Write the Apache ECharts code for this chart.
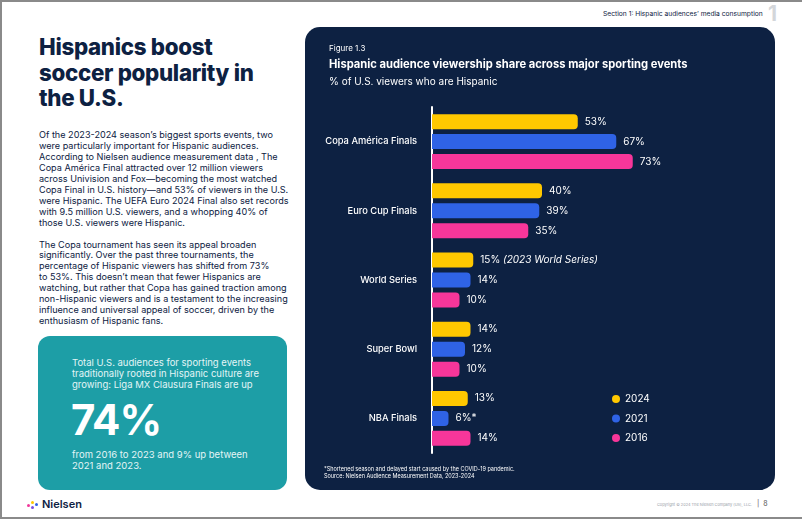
<!DOCTYPE html>
<html>
<head>
<meta charset="utf-8">
<script src="https://cdn.jsdelivr.net/npm/echarts@6/dist/echarts.min.js"></script>
<style>
  html, body { margin:0; padding:0; }
  body { width:802px; height:519px; position:relative; overflow:hidden; background:#fff; font-family:Inter, "Noto Sans", sans-serif; color:#0d2142; }
  .frame { position:absolute; left:0; top:0; width:802px; height:515px; border-top:2px solid #8a8a8a; border-left:2px solid #8a8a8a; border-bottom:2px solid #8a8a8a; box-sizing:content-box; }
  .abs { position:absolute; white-space:nowrap; }
  #h1 { left:39px; top:34px; font-size:22.3px; font-weight:800; line-height:25.5px; letter-spacing:-0.3px; }
  #body { left:39px; top:130px; font-size:9.1px; line-height:10.95px; }
  #box { left:38px; top:336px; width:249px; height:154px; border-radius:12px; background:#1d9ea6; }
  #boxtxt { left:72px; top:357px; font-size:9.5px; line-height:11px; color:#e3f5f6; }
  #big { left:71px; top:396px; font-size:42px; font-weight:700; color:#fff; letter-spacing:-1px; line-height:48px; }
  #boxtxt2 { left:72px; top:449px; font-size:9.5px; line-height:11px; color:#e3f5f6; }
  #sec { left:603px; top:10px; font-size:6.7px; color:#0d2142; }
  #secnum { left:768px; top:1px; font-size:21px; font-weight:700; color:#d3d6da; }
  #copy { left:657px; top:502px; font-size:3.9px; color:#9aa0a8; }
  #pg { left:757px; top:499px; font-size:7px; color:#555; }
  #logo { left:42px; top:497px; font-size:11px; font-weight:600; color:#0d2142; }
  .dot { position:absolute; border-radius:50%; }
  #chart { position:absolute; left:305px; top:27px; width:470px; height:463px; border-radius:15px; background:#0d2142; overflow:hidden; }
</style>
</head>
<body>
<div class="frame"></div>
<div class="abs" id="h1">Hispanics boost<br>soccer popularity in<br>the U.S.</div>
<div class="abs" id="body">Of the 2023-2024 season’s biggest sports events, two<br>were particularly important for Hispanic audiences.<br>According to Nielsen audience measurement data , The<br>Copa América Final attracted over 12 million viewers<br>across Univision and Fox—becoming the most watched<br>Copa Final in U.S. history—and 53% of viewers in the U.S.<br>were Hispanic. The UEFA Euro 2024 Final also set records<br>with 9.5 million U.S. viewers, and a whopping 40% of<br>those U.S. viewers were Hispanic.<br><br>The Copa tournament has seen its appeal broaden<br>significantly. Over the past three tournaments, the<br>percentage of Hispanic viewers has shifted from 73%<br>to 53%. This doesn’t mean that fewer Hispanics are<br>watching, but rather that Copa has gained traction among<br>non-Hispanic viewers and is a testament to the increasing<br>influence and universal appeal of soccer, driven by the<br>enthusiasm of Hispanic fans.</div>
<div class="abs" id="box"></div>
<div class="abs" id="boxtxt">Total U.S. audiences for sporting events<br>traditionally rooted in Hispanic culture are<br>growing: Liga MX Clausura Finals are up</div>
<div class="abs" id="big">74%</div>
<div class="abs" id="boxtxt2">from 2016 to 2023 and 9% up between<br>2021 and 2023.</div>
<div class="abs" id="sec">Section 1: Hispanic audiences’ media consumption</div>
<div class="abs" id="secnum">1</div>
<div class="abs" id="copy">Copyright © 2024 The Nielsen Company (US), LLC.</div>
<div class="abs" id="pg">|&nbsp;&nbsp;8</div>
<div class="dot" style="left:27px;top:504px;width:3px;height:3px;background:#f0379a"></div>
<div class="dot" style="left:31px;top:501px;width:3px;height:3px;background:#ffc800"></div>
<div class="dot" style="left:31px;top:506px;width:3px;height:3px;background:#7b4fe0"></div>
<div class="dot" style="left:35px;top:503px;width:3px;height:3px;background:#2f63e6"></div>
<div class="abs" id="logo">Nielsen</div>
<div id="chart"></div>
<script>
const categories = ['Copa América Finals', 'Euro Cup Finals', 'World Series', 'Super Bowl', 'NBA Finals'];
const years = ['2024', '2021', '2016'];
const values2024 = [53, 40, 15, 14, 13];
const values2021 = [67, 39, 14, 12, 6];
const values2016 = [73, 35, 10, 10, 14];
const notes2024 = ['', '', '(2023 World Series)', '', ''];
const notes2021 = ['', '', '', '', '*'];
const notes2016 = ['', '', '', '', ''];
const colors = ['#ffc800', '#2f63e6', '#f7369a'];

const chart = echarts.init(document.getElementById('chart'), null, { renderer: 'canvas' });
const FONT = 'Inter, "Noto Sans", sans-serif';

function mkSeries(name, vals, notes, color) {
  return {
    name: name, type: 'bar', data: vals, barWidth: 15, barGap: '33%',
    itemStyle: { color: color, borderRadius: [0, 4, 4, 0] },
    label: {
      show: true, position: 'right', distance: 7, color: '#fff', fontSize: 10, fontFamily: FONT,
      formatter: function (p) {
        const n = notes[p.dataIndex];
        if (n === '*') return p.value + '%*';
        if (n) return '{v|' + p.value + '%} {i|' + n + '}';
        return p.value + '%';
      },
      rich: { v: { color: '#fff', fontSize: 10, fontFamily: FONT }, i: { color: '#fff', fontSize: 10, fontStyle: 'italic', fontFamily: FONT } }
    }
  };
}

chart.setOption({
  animation: false,
  backgroundColor: 'transparent',
  title: [
    { text: 'Figure 1.3', left: 19, top: 13, textStyle: { color: '#fff', fontSize: 8, fontWeight: 'normal', fontFamily: FONT } },
    { text: 'Hispanic audience viewership share across major sporting events', left: 19, top: 27, textStyle: { color: '#fff', fontSize: 11.2, fontWeight: 'bold', fontFamily: FONT } },
    { text: '% of U.S. viewers who are Hispanic', left: 19, top: 45, textStyle: { color: '#fff', fontSize: 10, fontWeight: 'normal', fontFamily: FONT } }
  ],
  legend: {
    orient: 'vertical', left: 302, top: 361, icon: 'circle', itemWidth: 8, itemHeight: 8, itemGap: 7.5,
    data: years,
    textStyle: { color: '#fff', fontSize: 10, fontFamily: FONT, lineHeight: 12 }
  },
  grid: { left: 127, top: 80, width: 275, height: 346, containLabel: false },
  xAxis: { type: 'value', min: 0, max: 100, show: false },
  yAxis: {
    type: 'category', data: categories, inverse: true,
    axisLine: { show: true, lineStyle: { color: '#fff', width: 2 } },
    axisTick: { show: false },
    axisLabel: { color: '#fff', fontSize: 9.3, fontWeight: 500, fontFamily: FONT, margin: 15 }
  },
  series: [
    mkSeries(years[0], values2024, notes2024, colors[0]),
    mkSeries(years[1], values2021, notes2021, colors[1]),
    mkSeries(years[2], values2016, notes2016, colors[2])
  ],
  graphic: [
    { type: 'text', left: 19, top: 439, style: { text: '*Shortened season and delayed start caused by the COVID-19 pandemic.\nSource: Nielsen Audience Measurement Data, 2023-2024', fill: '#fff', fontSize: 5.5, lineHeight: 7, fontFamily: FONT } }
  ]
});
</script>
</body>
</html>
